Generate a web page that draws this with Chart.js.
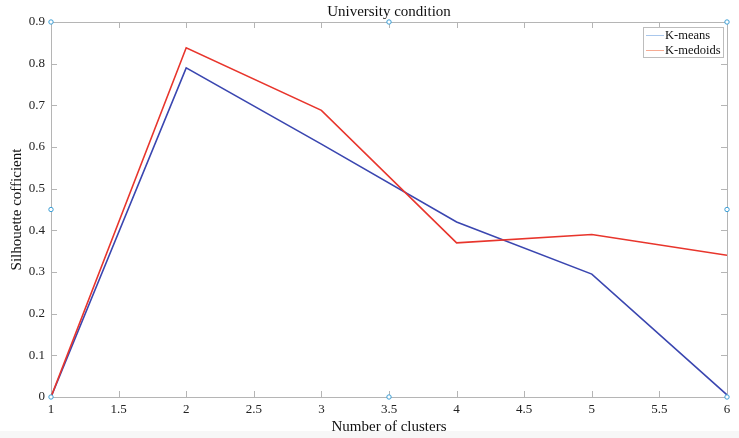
<!DOCTYPE html>
<html>
<head>
<meta charset="utf-8">
<script src="https://cdn.jsdelivr.net/npm/chart.js@4.4.0/dist/chart.umd.min.js"></script>
<style>
  html, body { margin: 0; padding: 0; background: #fff; }
  #wrap { width: 739px; height: 438px; }
</style>
</head>
<body>
<div id="wrap"><canvas id="chart1" width="739" height="438"></canvas></div>
<script>
// data
const clusters = [1, 2, 3, 4, 5, 6];
const kmeans   = [0, 0.79, 0.607, 0.42, 0.295, 0.005];
const kmedoids = [0, 0.838, 0.688, 0.37, 0.39, 0.34];
const seriesNames = ["K-means", "K-medoids"];
// selection handles drawn on the axes box
const handleX = [1, 1, 1, 3.5, 6, 6, 6, 3.5];
const handleY = [0, 0.45, 0.9, 0.9, 0.9, 0.45, 0, 0];

const serif = "'Liberation Serif', 'Times New Roman', serif";
const boxGrey = "#b5b5b5";

function pts(xs, ys) {
    return xs.map((x, i) => ({ x: x, y: ys[i] }));
}

// 1.0 -> "1", 0.50 -> "0.5"
function fmt(v) {
    return String(Number(v.toFixed(2)));
}

// box, inward ticks, legend
const axesBox = {
    id: "axesBox",
    beforeDraw(chart) {
        const c = chart.ctx;
        c.save();
        c.fillStyle = "#fff";
        c.fillRect(0, 0, chart.width, chart.height);
        c.fillStyle = "#f7f7f7";
        c.fillRect(0, 431, chart.width, chart.height - 431);
        c.restore();
    },
    beforeDatasetsDraw(chart) {
        const c = chart.ctx;
        const a = chart.chartArea;
        const xs = chart.scales.x, ys = chart.scales.y;
        c.save();
        c.strokeStyle = boxGrey;
        c.lineWidth = 1;
        c.strokeRect(Math.round(a.left) + 0.5, Math.round(a.top) + 0.5,
                     Math.round(a.right - a.left), Math.round(a.bottom - a.top));
        c.beginPath();
        xs.ticks.forEach(t => {
            const px = Math.round(xs.getPixelForValue(t.value)) + 0.5;
            c.moveTo(px, a.bottom); c.lineTo(px, a.bottom - 6);
            c.moveTo(px, a.top); c.lineTo(px, a.top + 6);
        });
        ys.ticks.forEach(t => {
            const py = Math.round(ys.getPixelForValue(t.value)) + 0.5;
            c.moveTo(a.left, py); c.lineTo(a.left + 6, py);
            c.moveTo(a.right, py); c.lineTo(a.right - 6, py);
        });
        c.stroke();
        c.restore();
    },
    afterDraw(chart) {
        const c = chart.ctx;
        const colors = ["#a9c7ec", "#f6ab93"];
        c.save();
        c.fillStyle = "#fff";
        c.strokeStyle = "#bdbdbd";
        c.lineWidth = 1;
        c.fillRect(643.5, 27.5, 80, 30);
        c.strokeRect(643.5, 27.5, 80, 30);
        c.font = "12.5px " + serif;
        c.textBaseline = "middle";
        seriesNames.forEach((name, i) => {
            const y = 35.5 + i * 15;
            c.strokeStyle = colors[i];
            c.beginPath();
            c.moveTo(646, y); c.lineTo(664, y);
            c.stroke();
            c.fillStyle = "#111";
            c.fillText(name, 665, y);
        });
        c.restore();
    }
};

new Chart(document.getElementById("chart1").getContext("2d"), {
    type: "line",
    data: {
        datasets: [
            {
                label: "handles",
                data: pts(handleX, handleY),
                showLine: false,
                clip: false,
                pointRadius: 2.2,
                pointBorderWidth: 1,
                pointBorderColor: "#3d9fd6",
                pointBackgroundColor: "#ffffff",
                order: 0
            },
            {
                label: seriesNames[0],
                data: pts(clusters, kmeans),
                borderColor: "#3a46b0",
                borderWidth: 1.6,
                pointRadius: 0,
                tension: 0,
                order: 2
            },
            {
                label: seriesNames[1],
                data: pts(clusters, kmedoids),
                borderColor: "#e8352c",
                borderWidth: 1.6,
                pointRadius: 0,
                tension: 0,
                order: 1
            }
        ]
    },
    options: {
        responsive: false,
        animation: false,
        events: [],
        layout: { padding: { left: 0, right: 12, top: 0, bottom: 0 } },
        plugins: {
            legend: { display: false },
            tooltip: { enabled: false },
            title: {
                display: true,
                text: "University condition",
                fullSize: false,
                color: "#111",
                font: { family: serif, size: 15, weight: "normal", lineHeight: 1.2 },
                padding: { top: 3, bottom: 1 }
            }
        },
        scales: {
            x: {
                type: "linear",
                min: 1,
                max: 6,
                afterFit: s => { s.height = 41; },
                ticks: {
                    stepSize: 0.5,
                    color: "#222",
                    font: { family: serif, size: 13 },
                    padding: 5,
                    maxRotation: 0,
                    callback: v => fmt(v)
                },
                grid: { display: false, drawTicks: false },
                border: { display: false },
                title: {
                    display: true,
                    text: "Number of clusters",
                    color: "#111",
                    font: { family: serif, size: 15, lineHeight: 1.2 },
                    padding: { top: 0, bottom: 2 }
                }
            },
            y: {
                min: 0,
                max: 0.9,
                afterFit: s => { s.width = 51; },
                ticks: {
                    stepSize: 0.1,
                    color: "#222",
                    font: { family: serif, size: 13 },
                    padding: 6,
                    callback: v => fmt(v)
                },
                grid: { display: false, drawTicks: false },
                border: { display: false },
                title: {
                    display: true,
                    text: "Silhouette cofficient",
                    color: "#111",
                    font: { family: serif, size: 15, lineHeight: 1.2 },
                    padding: { top: 8, bottom: 0 }
                }
            }
        }
    },
    plugins: [axesBox]
});
</script>
</body>
</html>
